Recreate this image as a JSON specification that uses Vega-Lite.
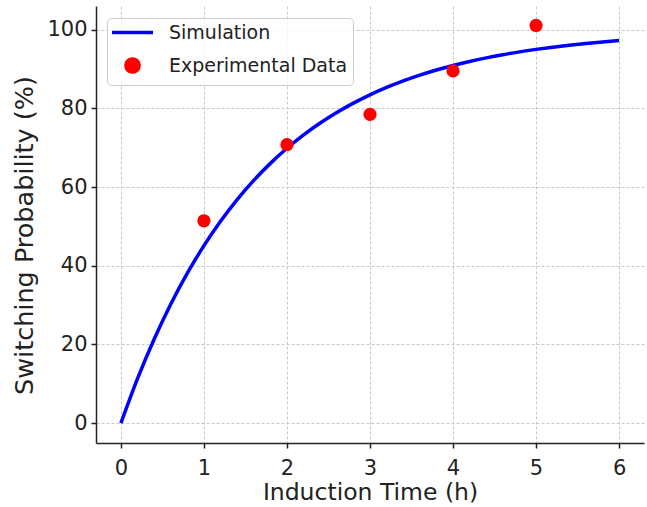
{
  "$schema": "https://vega.github.io/schema/vega-lite/v6.json",
  "autosize": {"type": "none"},
  "width": 548,
  "height": 437,
  "padding": {"left": 96, "top": 6, "right": 3, "bottom": 64},
  "background": "white",
  "config": {
    "view": {"stroke": null},
    "font": "DejaVu Sans",
    "axis": {
      "labelFont": "DejaVu Sans",
      "titleFont": "DejaVu Sans",
      "labelFontSize": 21,
      "titleFontSize": 23.5,
      "labelColor": "#222222",
      "titleColor": "#222222",
      "titleFontWeight": "normal",
      "domainColor": "#222222",
      "domainWidth": 1.5,
      "tickColor": "#222222",
      "tickWidth": 1.5,
      "tickSize": 5,
      "gridColor": "#c8c8c8",
      "gridDash": [3, 2],
      "gridWidth": 1
    }
  },
  "layer": [
    {
      "data": {
        "values": [
          {"t": 0, "p": 0, "series": "Simulation"},
          {"t": 0.2, "p": 11.31, "series": "Simulation"},
          {"t": 0.4, "p": 21.34, "series": "Simulation"},
          {"t": 0.6, "p": 30.23, "series": "Simulation"},
          {"t": 0.8, "p": 38.12, "series": "Simulation"},
          {"t": 1.0, "p": 45.12, "series": "Simulation"},
          {"t": 1.2, "p": 51.32, "series": "Simulation"},
          {"t": 1.4, "p": 56.83, "series": "Simulation"},
          {"t": 1.6, "p": 61.71, "series": "Simulation"},
          {"t": 1.8, "p": 66.04, "series": "Simulation"},
          {"t": 2.0, "p": 69.88, "series": "Simulation"},
          {"t": 2.2, "p": 73.29, "series": "Simulation"},
          {"t": 2.4, "p": 76.31, "series": "Simulation"},
          {"t": 2.6, "p": 78.99, "series": "Simulation"},
          {"t": 2.8, "p": 81.36, "series": "Simulation"},
          {"t": 3.0, "p": 83.47, "series": "Simulation"},
          {"t": 3.2, "p": 85.34, "series": "Simulation"},
          {"t": 3.4, "p": 87.0, "series": "Simulation"},
          {"t": 3.6, "p": 88.47, "series": "Simulation"},
          {"t": 3.8, "p": 89.77, "series": "Simulation"},
          {"t": 4.0, "p": 90.93, "series": "Simulation"},
          {"t": 4.2, "p": 91.95, "series": "Simulation"},
          {"t": 4.4, "p": 92.86, "series": "Simulation"},
          {"t": 4.6, "p": 93.67, "series": "Simulation"},
          {"t": 4.8, "p": 94.39, "series": "Simulation"},
          {"t": 5.0, "p": 95.02, "series": "Simulation"},
          {"t": 5.2, "p": 95.58, "series": "Simulation"},
          {"t": 5.4, "p": 96.08, "series": "Simulation"},
          {"t": 5.6, "p": 96.53, "series": "Simulation"},
          {"t": 5.8, "p": 96.92, "series": "Simulation"},
          {"t": 6.0, "p": 97.27, "series": "Simulation"}
        ]
      },
      "mark": {"type": "line", "strokeWidth": 3.5, "interpolate": "monotone", "clip": true},
      "encoding": {
        "x": {
          "field": "t", "type": "quantitative",
          "scale": {"domain": [-0.3, 6.3], "nice": false, "zero": false},
          "axis": {
            "values": [0, 1, 2, 3, 4, 5, 6],
            "format": "d",
            "title": "Induction Time (h)",
            "labelPadding": 9,
            "titleX": 274,
            "titleY": 56,
            "titleBaseline": "alphabetic",
            "titleAnchor": "middle",
            "grid": true
          }
        },
        "y": {
          "field": "p", "type": "quantitative",
          "scale": {"domain": [-5.05, 106.05], "nice": false, "zero": false},
          "axis": {
            "values": [0, 20, 40, 60, 80, 100],
            "format": "d",
            "title": "Switching Probability (%)",
            "titleFontSize": 25.5,
            "labelPadding": 4,
            "titleX": -64,
            "titleY": 229,
            "titleBaseline": "alphabetic",
            "titleAngle": -90,
            "titleAnchor": "middle",
            "grid": true
          }
        },
        "color": {
          "field": "series", "type": "nominal",
          "scale": {"domain": ["Simulation", "Experimental Data"], "range": ["#0000ff", "#ff0000"]},
          "legend": {
            "title": null,
            "orient": "none",
            "legendX": 11,
            "legendY": 12,
            "padding": 5,
            "fillColor": "rgba(255,255,255,0.8)",
            "strokeColor": "#cccccc",
            "cornerRadius": 4,
            "labelFont": "DejaVu Sans",
            "labelFontSize": 19,
            "labelColor": "#222222",
            "labelLimit": 400,
            "labelOffset": 27,
            "symbolOffset": 11,
            "symbolType": "stroke",
            "symbolSize": 1681,
            "symbolStrokeWidth": 3.5,
            "rowPadding": 8,
            "encode": {
              "symbols": {
                "update": {
                  "shape": {"signal": "datum.value === 'Simulation' ? 'stroke' : 'circle'"},
                  "size": {"signal": "datum.value === 'Simulation' ? 1681 : 175"},
                  "fill": {"signal": "datum.value === 'Simulation' ? 'transparent' : '#ff0000'"},
                  "stroke": {"signal": "datum.value === 'Simulation' ? '#0000ff' : 'transparent'"},
                  "strokeWidth": {"value": 3.5}
                }
              }
            }
          }
        }
      }
    },
    {
      "data": {
        "values": [
          {"t": 1, "p": 51.45, "series": "Experimental Data"},
          {"t": 2, "p": 70.8, "series": "Experimental Data"},
          {"t": 3, "p": 78.5, "series": "Experimental Data"},
          {"t": 4, "p": 89.55, "series": "Experimental Data"},
          {"t": 5, "p": 101.1, "series": "Experimental Data"}
        ]
      },
      "mark": {"type": "point", "filled": true, "opacity": 1, "size": 175, "shape": "circle"},
      "encoding": {
        "x": {"field": "t", "type": "quantitative"},
        "y": {"field": "p", "type": "quantitative"},
        "color": {"field": "series", "type": "nominal"}
      }
    }
  ]
}
